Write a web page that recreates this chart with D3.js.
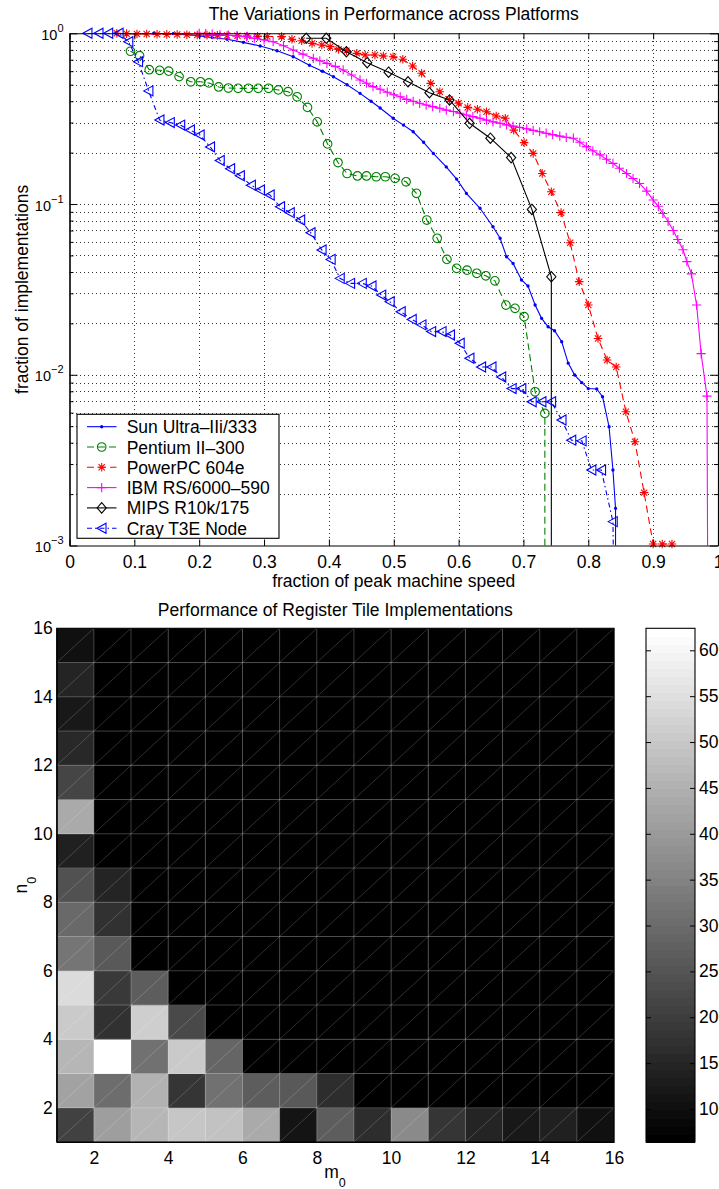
<!DOCTYPE html>
<html><head><meta charset="utf-8">
<script src="https://cdn.jsdelivr.net/npm/d3@7"></script>
<style>
body{margin:0;background:#fff}
svg{display:block;font-family:"Liberation Sans",Arial,Helvetica,sans-serif}
</style></head><body>
<svg id="c" width="719" height="1189"></svg>
<script>
// ---------------- data: top chart ----------------
const seriesNames = ["Sun Ultra\u2013IIi/333","Pentium II\u2013300","PowerPC 604e","IBM RS/6000\u2013590","MIPS R10k/175","Cray T3E Node"];
const sunData = [[0.13,1.0],[0.16,0.995],[0.18,0.985],[0.20,0.965],[0.22,0.945],[0.243,0.922],[0.268,0.885],[0.294,0.843],[0.32,0.79],[0.345,0.729],[0.37,0.65],[0.39,0.60],[0.407,0.557],[0.428,0.50],[0.448,0.445],[0.465,0.40],[0.479,0.365],[0.499,0.318],[0.515,0.29],[0.530,0.265],[0.546,0.23],[0.561,0.198],[0.581,0.165],[0.597,0.14],[0.612,0.1155],[0.633,0.0944],[0.653,0.0736],[0.664,0.063],[0.674,0.0491],[0.684,0.0449],[0.697,0.0359],[0.707,0.0331],[0.718,0.0256],[0.728,0.0214],[0.738,0.0191],[0.748,0.0181],[0.759,0.0156],[0.769,0.0117],[0.779,0.00996],[0.790,0.0090],[0.800,0.0083],[0.813,0.00825],[0.822,0.00743],[0.832,0.00496],[0.838,0.00277],[0.842,0.00165],[0.842,0.0001]];
const pentiumData = [[0.094,0.785],[0.108,0.74],[0.123,0.612],[0.139,0.607],[0.153,0.60],[0.169,0.558],[0.187,0.52],[0.202,0.52],[0.215,0.512],[0.230,0.485],[0.245,0.478],[0.260,0.476],[0.276,0.476],[0.291,0.476],[0.307,0.476],[0.322,0.466],[0.337,0.455],[0.351,0.425],[0.367,0.368],[0.382,0.303],[0.398,0.225],[0.414,0.175],[0.428,0.151],[0.444,0.146],[0.458,0.146],[0.473,0.1445],[0.487,0.1445],[0.502,0.1414],[0.519,0.135],[0.535,0.1155],[0.551,0.0806],[0.567,0.063],[0.582,0.0474],[0.597,0.042],[0.613,0.041],[0.628,0.0393],[0.642,0.038],[0.656,0.0355],[0.673,0.0256],[0.687,0.0245],[0.701,0.0219],[0.718,0.00795],[0.733,0.00594],[0.733,0.0001]];
const powerpcData = [[0.073,1.0],[0.088,0.995],[0.104,0.99],[0.119,0.99],[0.135,0.988],[0.150,0.985],[0.166,0.983],[0.181,0.98],[0.197,0.978],[0.212,0.976],[0.228,0.973],[0.243,0.97],[0.259,0.967],[0.274,0.964],[0.290,0.96],[0.305,0.958],[0.327,0.956],[0.343,0.922],[0.358,0.905],[0.374,0.873],[0.389,0.854],[0.402,0.835],[0.415,0.805],[0.427,0.791],[0.443,0.763],[0.456,0.746],[0.471,0.746],[0.484,0.736],[0.499,0.729],[0.514,0.704],[0.529,0.643],[0.543,0.583],[0.557,0.509],[0.571,0.455],[0.586,0.41],[0.600,0.389],[0.614,0.368],[0.629,0.359],[0.643,0.347],[0.658,0.328],[0.672,0.318],[0.685,0.271],[0.701,0.229],[0.715,0.198],[0.729,0.151],[0.743,0.118],[0.758,0.089],[0.772,0.0593],[0.786,0.0351],[0.800,0.0256],[0.815,0.0163],[0.829,0.0122],[0.843,0.0111],[0.858,0.00607],[0.872,0.00405],[0.886,0.00204],[0.900,0.00102],[0.914,0.00102],[0.929,0.00102]];
const ibmData = [[0.200,1.0],[0.21,0.995],[0.22,0.99],[0.232,0.98],[0.245,0.975],[0.258,0.965],[0.273,0.956],[0.285,0.935],[0.30,0.915],[0.314,0.893],[0.33,0.845],[0.345,0.798],[0.36,0.755],[0.376,0.714],[0.386,0.69],[0.397,0.667],[0.41,0.64],[0.422,0.61],[0.435,0.57],[0.448,0.533],[0.458,0.51],[0.468,0.487],[0.479,0.47],[0.49,0.452],[0.50,0.437],[0.51,0.425],[0.52,0.41],[0.53,0.40],[0.54,0.389],[0.55,0.38],[0.56,0.372],[0.571,0.364],[0.581,0.355],[0.592,0.348],[0.602,0.34],[0.612,0.332],[0.622,0.325],[0.633,0.318],[0.643,0.31],[0.653,0.303],[0.664,0.297],[0.674,0.291],[0.684,0.286],[0.694,0.281],[0.705,0.276],[0.715,0.27],[0.725,0.265],[0.735,0.26],[0.745,0.255],[0.756,0.25],[0.766,0.246],[0.777,0.243],[0.787,0.23],[0.797,0.217],[0.807,0.205],[0.818,0.194],[0.828,0.183],[0.838,0.173],[0.848,0.162],[0.859,0.151],[0.869,0.141],[0.879,0.132],[0.89,0.119],[0.90,0.1055],[0.908,0.097],[0.915,0.088],[0.923,0.079],[0.931,0.070],[0.938,0.062],[0.946,0.054],[0.952,0.046],[0.959,0.039],[0.967,0.0256],[0.974,0.0133],[0.983,0.0075],[0.985,0.0001]];
const mipsData = [[0.365,0.935],[0.396,0.935],[0.427,0.78],[0.459,0.673],[0.492,0.592],[0.522,0.52],[0.555,0.449],[0.586,0.407],[0.617,0.297],[0.649,0.243],[0.681,0.187],[0.713,0.093],[0.743,0.0375],[0.743,0.0001]];
const crayData = [[0.028,1.0],[0.045,1.0],[0.060,1.0],[0.076,1.0],[0.091,0.893],[0.106,0.682],[0.122,0.46],[0.139,0.3105],[0.155,0.30],[0.171,0.29],[0.186,0.2714],[0.201,0.2536],[0.217,0.216],[0.232,0.18],[0.248,0.161],[0.263,0.1465],[0.280,0.129],[0.294,0.121],[0.309,0.113],[0.325,0.0964],[0.340,0.089],[0.356,0.0806],[0.372,0.0679],[0.389,0.0538],[0.403,0.0474],[0.417,0.0367],[0.433,0.0343],[0.451,0.0343],[0.466,0.0331],[0.481,0.0293],[0.494,0.0268],[0.511,0.0234],[0.528,0.0211],[0.543,0.0196],[0.558,0.0179],[0.574,0.0179],[0.587,0.0171],[0.602,0.0153],[0.617,0.0125],[0.635,0.0111],[0.651,0.0111],[0.666,0.0097],[0.682,0.0083],[0.697,0.0083],[0.713,0.00695],[0.728,0.00695],[0.743,0.00695],[0.759,0.00543],[0.774,0.00414],[0.790,0.0041],[0.805,0.00277],[0.820,0.00277],[0.838,0.00138],[0.842,0.0001]];
const xTopTicks = [0,0.1,0.2,0.3,0.4,0.5,0.6,0.7,0.8,0.9,1];
const xTopTickLabels = ["0","0.1","0.2","0.3","0.4","0.5","0.6","0.7","0.8","0.9","1"];
const yTopExponents = [0,-1,-2,-3];

// ---------------- data: heatmap (rows n0=1..15, cols m0=1..15) ----------------
const heatValues = [
 [204,411,462,496,485,433,112,266,165,366,182,145,123,139,102],
 [415,305,456,182,310,271,262,165,68,66,67,66,65,66,65],
 [462,624,314,507,288,70,66,67,65,66,65,66,64,65,66],
 [503,176,512,226,68,66,65,66,64,65,66,65,64,65,64],
 [538,191,266,68,66,65,64,65,66,64,65,64,65,64,65],
 [325,262,70,66,65,64,65,64,65,64,64,65,64,64,65],
 [297,176,68,65,64,65,64,64,65,64,65,64,64,65,64],
 [245,150,67,65,64,64,65,64,64,65,64,64,65,64,64],
 [139,66,65,64,65,64,64,65,64,64,64,65,64,64,64],
 [435,66,64,65,64,64,65,64,64,64,65,64,64,64,65],
 [213,65,64,64,65,64,64,64,65,64,64,64,64,65,64],
 [160,65,64,64,64,65,64,64,64,64,65,64,64,64,64],
 [122,64,65,64,64,64,64,65,64,64,64,64,65,64,64],
 [150,65,64,64,65,64,64,64,64,65,64,64,64,64,64],
 [101,64,64,65,64,64,64,64,65,64,64,64,64,64,65]
];
const heatTicks = [2,4,6,8,10,12,14,16];
const colorbarTicks = [100,150,200,250,300,350,400,450,500,550,600];

// ---------------- styles ----------------
const styles = [
 {color:"#0000ff", dash:null, marker:"dot"},
 {color:"#008000", dash:"7,4", marker:"circle"},
 {color:"#ff0000", dash:"7,4.5", marker:"star"},
 {color:"#ff00ff", dash:null, marker:"plus"},
 {color:"#000000", dash:null, marker:"diamond"},
 {color:"#0000ff", dash:"5,3,1.5,3", marker:"tri"}
];
const allSeries = [sunData,pentiumData,powerpcData,ibmData,mipsData,crayData];
const FS = 17.5;

const svg = d3.select("#c");
function markerPath(t){
  switch(t){
    case "dot": return "M-1.7,0a1.7,1.7 0 1,0 3.4,0a1.7,1.7 0 1,0 -3.4,0Z";
    case "circle": return "M-4.3,0a4.3,4.3 0 1,0 8.6,0a4.3,4.3 0 1,0 -8.6,0Z";
    case "star": return "M-4.3,0H4.3M0,-4.3V4.3M-3.1,-3.1L3.1,3.1M-3.1,3.1L3.1,-3.1";
    case "plus": return "M-4.6,0H4.6M0,-4.6V4.6";
    case "diamond": return "M0,-5.2L4.6,0L0,5.2L-4.6,0Z";
    case "tri": return "M-4.8,0L4.3,-5L4.3,5Z";
  }
}

// ================= TOP CHART =================
const X0=69.5, X1=718, Y0=33.3, Y1=545.5;
const x = d3.scaleLinear().domain([0,1]).range([X0,X1]);
const y = d3.scaleLog().domain([1e-3,1]).range([Y1,Y0]);
const gUp = svg.append("g");
svg.append("defs").append("clipPath").attr("id","pc")
  .append("rect").attr("x",X0).attr("y",Y0).attr("width",X1-X0).attr("height",Y1-Y0);

const minorY=[], majorY=[];
yTopExponents.forEach(e=>majorY.push(Math.pow(10,e)));
for(let e=-3;e<0;e++) for(let k=2;k<10;k++) minorY.push(k*Math.pow(10,e));
const gridY = majorY.concat(minorY).filter(v=>v>0.0011 && v<0.999);
const px = v=>Math.round(v)+0.5;

// grid (crisp dotted)
gUp.append("g").selectAll("line").data(xTopTicks.filter(t=>t>0&&t<1)).join("line")
  .attr("x1",d=>px(x(d))).attr("x2",d=>px(x(d))).attr("y1",Y0).attr("y2",Y1)
  .attr("stroke","#333").attr("stroke-width",1).attr("stroke-dasharray","1,3")
  .attr("shape-rendering","crispEdges");
gUp.append("g").selectAll("line").data(gridY).join("line")
  .attr("x1",X0+2).attr("x2",X1).attr("y1",d=>px(y(d))).attr("y2",d=>px(y(d)))
  .attr("stroke","#333").attr("stroke-width",1).attr("stroke-dasharray","1,3")
  .attr("shape-rendering","crispEdges");

// series
const line = d3.line().x(d=>x(d[0])).y(d=>y(d[1]));
allSeries.forEach((data,i)=>{
  const s = styles[i];
  const g = gUp.append("g");
  g.append("path").datum(data).attr("clip-path","url(#pc)").attr("d",line)
    .attr("fill","none").attr("stroke",s.color).attr("stroke-width",1.1)
    .attr("stroke-dasharray",s.dash);
  g.selectAll("path.m").data(data.filter(d=>d[1]>=0.00099)).join("path").attr("class","m")
    .attr("transform",d=>`translate(${x(d[0])},${y(d[1])})`)
    .attr("d",markerPath(s.marker))
    .attr("fill",s.marker==="dot"?s.color:"none")
    .attr("stroke",s.color).attr("stroke-width",s.marker==="dot"?0:1.1);
});

// axes
function styleAxis(g){ g.attr("font-size",null).attr("font-family",null);
  g.selectAll("path.domain").attr("stroke","#000").attr("stroke-width",1.1);
  g.selectAll(".tick line").attr("stroke","#000").attr("stroke-width",1);
  g.selectAll("text").attr("fill","#000").style("font-size",FS+"px"); }
const axB = gUp.append("g").attr("transform",`translate(0,${Y1})`)
  .call(d3.axisBottom(x).tickValues(xTopTicks).tickFormat((d,i)=>xTopTickLabels[i]).tickSizeInner(-6).tickSizeOuter(0).tickPadding(10.4));
styleAxis(axB);
const axT = gUp.append("g").attr("transform",`translate(0,${Y0})`)
  .call(d3.axisTop(x).tickValues(xTopTicks).tickFormat("").tickSizeInner(-6).tickSizeOuter(0));
styleAxis(axT);
const axL = gUp.append("g").attr("transform",`translate(${X0},0)`)
  .call(d3.axisLeft(y).tickValues(majorY).tickFormat("").tickSizeInner(-8).tickSizeOuter(0));
styleAxis(axL);
const axLm = gUp.append("g").attr("transform",`translate(${X0},0)`)
  .call(d3.axisLeft(y).tickValues(minorY).tickFormat("").tickSizeInner(-4).tickSizeOuter(0));
styleAxis(axLm);
const axR = gUp.append("g").attr("transform",`translate(${X1},0)`)
  .call(d3.axisRight(y).tickValues(majorY).tickFormat("").tickSizeInner(-8).tickSizeOuter(0));
styleAxis(axR);
const axRm = gUp.append("g").attr("transform",`translate(${X1},0)`)
  .call(d3.axisRight(y).tickValues(minorY).tickFormat("").tickSizeInner(-4).tickSizeOuter(0));
styleAxis(axRm);

// y tick labels 10^e
yTopExponents.forEach(e=>{
  const t = gUp.append("text").attr("x",63.5).attr("y",y(Math.pow(10,e))+6.7)
    .attr("text-anchor","end").style("font-size","14.5px");
  t.append("tspan").text("10");
  t.append("tspan").attr("dy",-8).style("font-size","11px").text(e===0?"0":"\u2212"+(-e));
});

// titles
gUp.append("text").attr("x",(X0+X1)/2).attr("y",20).attr("text-anchor","middle")
  .style("font-size",FS+"px").text("The Variations in Performance across Platforms");
gUp.append("text").attr("x",(X0+X1)/2).attr("y",587).attr("text-anchor","middle")
  .style("font-size",FS+"px").text("fraction of peak machine speed");
gUp.append("text").attr("transform",`translate(27.5,${(Y0+Y1)/2}) rotate(-90)`).attr("text-anchor","middle")
  .style("font-size",FS+"px").text("fraction of implementations");

// legend
const LX0=77, LY0=414.3, LX1=279, LY1=538.3, rowH=20.3;
const leg = gUp.append("g");
leg.append("rect").attr("x",LX0).attr("y",LY0).attr("width",LX1-LX0).attr("height",LY1-LY0)
  .attr("fill","#fff").attr("stroke","#000").attr("stroke-width",1.1);
seriesNames.forEach((n,i)=>{
  const s = styles[i], cy = LY0+12.4+i*rowH;
  leg.append("line").attr("x1",87).attr("x2",116.5).attr("y1",cy).attr("y2",cy)
    .attr("stroke",s.color).attr("stroke-width",1.1).attr("stroke-dasharray",s.dash);
  leg.append("path").attr("transform",`translate(101.7,${cy})`).attr("d",markerPath(s.marker))
    .attr("fill",s.marker==="dot"?s.color:"none").attr("stroke",s.color).attr("stroke-width",s.marker==="dot"?0:1.1);
  leg.append("text").attr("x",126.7).attr("y",cy+6.5).style("font-size",FS+"px").text(n);
});

// ================= HEATMAP =================
const HX0=56.7, HX1=614, HY0=628.3, HY1=1142;
const hx = d3.scaleLinear().domain([1,16]).range([HX0,HX1]);
const hy = d3.scaleLinear().domain([1,16]).range([HY1,HY0]);
const flat = heatValues.flat();
const cmin = d3.min(flat), cmax = d3.max(flat);
function grayOf(v){
  const idx = Math.max(0,Math.min(63, Math.floor((v-cmin)/(cmax-cmin)*64)));
  const g = Math.round(idx/63*255);
  return `rgb(${g},${g},${g})`;
}
const cells = [];
heatValues.forEach((row,r)=>row.forEach((v,c)=>cells.push({n:r+1,m:c+1,v})));
const hm = svg.append("g");
hm.selectAll("rect").data(cells).join("rect")
  .attr("x",d=>hx(d.m)).attr("y",d=>hy(d.n+1))
  .attr("width",d=>hx(d.m+1)-hx(d.m)+0.3).attr("height",d=>hy(d.n)-hy(d.n+1)+0.3)
  .attr("fill",d=>grayOf(d.v));
// seams
const inner = d3.range(2,16);
hm.append("g").selectAll("line").data(inner).join("line")
  .attr("x1",d=>hx(d)).attr("x2",d=>hx(d)).attr("y1",HY0).attr("y2",HY1)
  .attr("stroke","#fff").attr("stroke-opacity",0.24).attr("stroke-width",1);
hm.append("g").selectAll("line").data(inner).join("line")
  .attr("y1",d=>hy(d)).attr("y2",d=>hy(d)).attr("x1",HX0).attr("x2",HX1)
  .attr("stroke","#fff").attr("stroke-opacity",0.24).attr("stroke-width",1);
hm.append("g").selectAll("line").data(cells).join("line")
  .attr("x1",d=>hx(d.m)).attr("y1",d=>hy(d.n)).attr("x2",d=>hx(d.m+1)).attr("y2",d=>hy(d.n+1))
  .attr("stroke","#fff").attr("stroke-opacity",0.3).attr("stroke-width",0.6);
hm.append("rect").attr("x",HX0).attr("y",HY0).attr("width",HX1-HX0).attr("height",HY1-HY0)
  .attr("fill","none").attr("stroke","#000").attr("stroke-width",1.1);
const hB = hm.append("g").attr("transform",`translate(0,${HY1})`)
  .call(d3.axisBottom(hx).tickValues(heatTicks).tickSize(0).tickPadding(9.1));
styleAxis(hB);
const hL = hm.append("g").attr("transform",`translate(${HX0},0)`)
  .call(d3.axisLeft(hy).tickValues(heatTicks).tickSize(0).tickPadding(4));
styleAxis(hL);

hm.append("text").attr("x",(HX0+HX1)/2).attr("y",616).attr("text-anchor","middle")
  .style("font-size",FS+"px").text("Performance of Register Tile Implementations");
const mt = hm.append("text").attr("x",335).attr("y",1178).attr("text-anchor","middle").style("font-size",FS+"px");
mt.append("tspan").text("m");
mt.append("tspan").attr("dy",8.5).style("font-size","12.5px").text("0");
const nt = hm.append("text").attr("transform",`translate(27,${(HY0+HY1)/2}) rotate(-90)`).attr("text-anchor","middle").style("font-size",FS+"px");
nt.append("tspan").text("n");
nt.append("tspan").attr("dy",8.5).style("font-size","12.5px").text("0");

// colorbar
const CX0=646, CX1=695;
const cyS = d3.scaleLinear().domain([cmin,cmax]).range([HY1,HY0]);
const bands = d3.range(64);
const cb = svg.append("g");
cb.selectAll("rect").data(bands).join("rect")
  .attr("x",CX0).attr("width",CX1-CX0)
  .attr("y",i=>cyS(cmin+(i+1)*(cmax-cmin)/64))
  .attr("height",i=>cyS(cmin+i*(cmax-cmin)/64)-cyS(cmin+(i+1)*(cmax-cmin)/64)+0.6)
  .attr("shape-rendering","crispEdges")
  .attr("fill",i=>{const g=Math.round(i/63*255);return `rgb(${g},${g},${g})`;});
cb.append("rect").attr("x",CX0).attr("y",HY0).attr("width",CX1-CX0).attr("height",HY1-HY0)
  .attr("fill","none").attr("stroke","#000").attr("stroke-width",1.1);
const cR = cb.append("g").attr("transform",`translate(${CX1},0)`)
  .call(d3.axisRight(cyS).tickValues(colorbarTicks).tickSizeInner(-5).tickSizeOuter(0).tickPadding(4));
styleAxis(cR);
cR.select("path.domain").remove();
const cL = cb.append("g").attr("transform",`translate(${CX0},0)`)
  .call(d3.axisLeft(cyS).tickValues(colorbarTicks).tickFormat("").tickSizeInner(-5).tickSizeOuter(0));
styleAxis(cL);
cL.select("path.domain").remove();
</script>
</body></html>
